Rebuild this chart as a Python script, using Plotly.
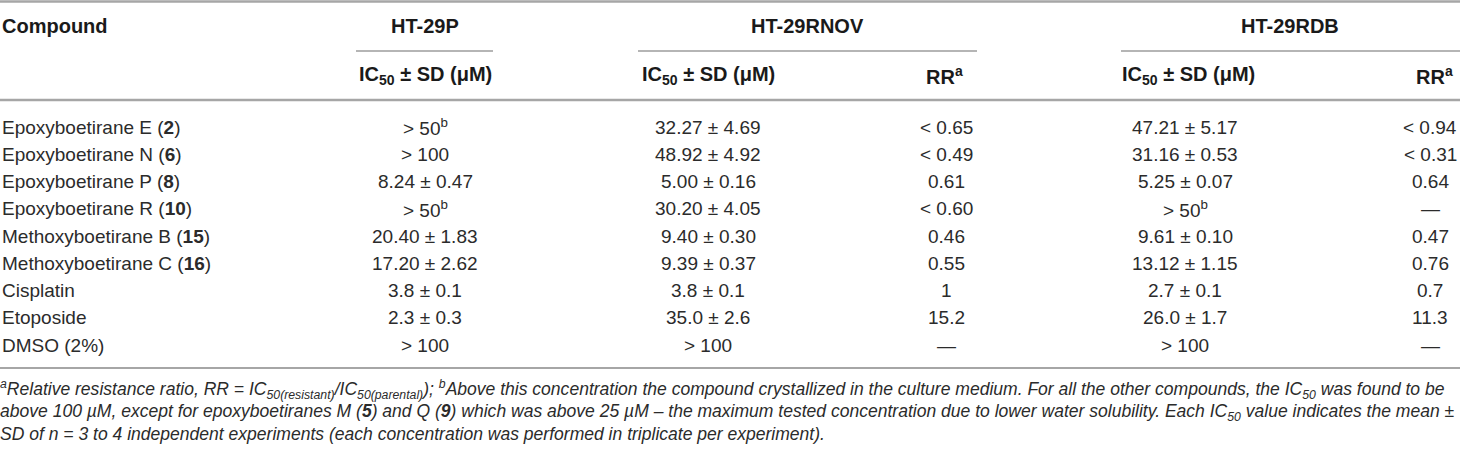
import plotly.graph_objects as go

# ---------------- data ----------------
compounds = [
    "Epoxyboetirane E (<b>2</b>)",
    "Epoxyboetirane N (<b>6</b>)",
    "Epoxyboetirane P (<b>8</b>)",
    "Epoxyboetirane R (<b>10</b>)",
    "Methoxyboetirane B (<b>15</b>)",
    "Methoxyboetirane C (<b>16</b>)",
    "Cisplatin",
    "Etoposide",
    "DMSO (2%)",
]
ht29p_ic50 = ["> 50<sup>b</sup>", "> 100", "8.24 ± 0.47", "> 50<sup>b</sup>", "20.40 ± 1.83",
              "17.20 ± 2.62", "3.8 ± 0.1", "2.3 ± 0.3", "> 100"]
rnov_ic50 = ["32.27 ± 4.69", "48.92 ± 4.92", "5.00 ± 0.16", "30.20 ± 4.05", "9.40 ± 0.30",
             "9.39 ± 0.37", "3.8 ± 0.1", "35.0 ± 2.6", "> 100"]
rnov_rr = ["< 0.65", "< 0.49", "0.61", "< 0.60", "0.46", "0.55", "1", "15.2", "—"]
rdb_ic50 = ["47.21 ± 5.17", "31.16 ± 0.53", "5.25 ± 0.07", "> 50<sup>b</sup>", "9.61 ± 0.10",
            "13.12 ± 1.15", "2.7 ± 0.1", "26.0 ± 1.7", "> 100"]
rdb_rr = ["< 0.94", "< 0.31", "0.64", "—", "0.47", "0.76", "0.7", "11.3", "—"]

group_headers = ["HT-29P", "HT-29RNOV", "HT-29RDB"]
sub_headers = ["IC<sub>50</sub> ± SD (μM)", "IC<sub>50</sub> ± SD (μM)", "RR<sup>a</sup>",
               "IC<sub>50</sub> ± SD (μM)", "RR<sup>a</sup>"]
footnotes = [
    "<sup>a</sup>Relative resistance ratio, RR = IC<sub>50(resistant)</sub>/IC<sub>50(parental)</sub>); "
    "<sup>b</sup>Above this concentration the compound crystallized in the culture medium. "
    "For all the other compounds, the IC<sub>50</sub> was found to be",
    "above 100 µM, except for epoxyboetiranes M (<b>5</b>) and Q (<b>9</b>) which was above 25 µM – "
    "the maximum tested concentration due to lower water solubility. Each IC<sub>50</sub> value "
    "indicates the mean ±",
    "SD of <i>n</i> = 3 to 4 independent experiments (each concentration was performed in "
    "triplicate per experiment).",
]

# ---------------- layout constants ----------------
W, H = 1460, 452
FONT = "Liberation Sans"
TXT = "#2b2b2b"
HDR = "#1a1a1a"
LINE = "#a6a6a6"

col_x = [425, 708, 946, 1185, 1430]          # centres of data columns
sub_x = [425, 708, 944, 1188, 1434]          # centres of sub-header texts
group_span = [(356, 493), (638, 977), (1121, 1460)]
group_x = [425, 807, 1290]
row_y0, row_dy = 127, 27.25
header_y, sub_y = 26, 75
foot_y = [389, 412, 434]

fig = go.Figure()
fig.add_trace(go.Scatter(x=[0, W], y=[0, H], mode="markers",
                         marker=dict(opacity=0), hoverinfo="skip", showlegend=False))

ann = []
def add(x, y, text, anchor="center", size=19, bold=False, italic=False, color=TXT, xshift=0):
    t = text
    if bold:
        t = "<b>" + t + "</b>"
    if italic:
        t = "<i>" + t + "</i>"
    ann.append(dict(x=x, y=y, xref="x", yref="y", text=t, showarrow=False,
                    xanchor=anchor, yanchor="middle", xshift=xshift,
                    font=dict(family=FONT, size=size, color=color)))

# header
add(0, header_y, "Compound", anchor="left", size=20, bold=True, color=HDR)
for x, g in zip(group_x, group_headers):
    add(x, header_y, g, size=20, bold=True, color=HDR)
for x, s in zip(sub_x, sub_headers):
    add(x, sub_y, s, size=20, bold=True, color=HDR)

# body
columns = [ht29p_ic50, rnov_ic50, rnov_rr, rdb_ic50, rdb_rr]
for i, name in enumerate(compounds):
    y = row_y0 + i * row_dy
    add(0, y, name, anchor="left")
    for x, col in zip(col_x, columns):
        add(x, y, col[i])

# footnotes
for y, f in zip(foot_y, footnotes):
    add(0, y, f, anchor="left", size=17.55, italic=True, xshift=-2)

# rules
shapes = []
def hline(x0, x1, y, w, c=LINE):
    shapes.append(dict(type="line", xref="x", yref="y", x0=x0, x1=x1, y0=y, y1=y,
                       line=dict(color=c, width=w)))
hline(0, W, 1.5, 2.5)
for a, b in group_span:
    hline(a, b, 51, 2, "#b5b5b5")
hline(0, W, 100, 2.5)
hline(0, W, 368, 2)

fig.update_layout(
    width=W, height=H, margin=dict(l=0, r=0, t=0, b=0),
    paper_bgcolor="white", plot_bgcolor="white",
    xaxis=dict(range=[0, W], visible=False, fixedrange=True),
    yaxis=dict(range=[H, 0], visible=False, fixedrange=True),
    annotations=ann, shapes=shapes, showlegend=False,
)
fig.write_html("out.html", config={"displayModeBar": False},
               post_script="document.body.style.margin='0';document.body.style.overflow='hidden';")
